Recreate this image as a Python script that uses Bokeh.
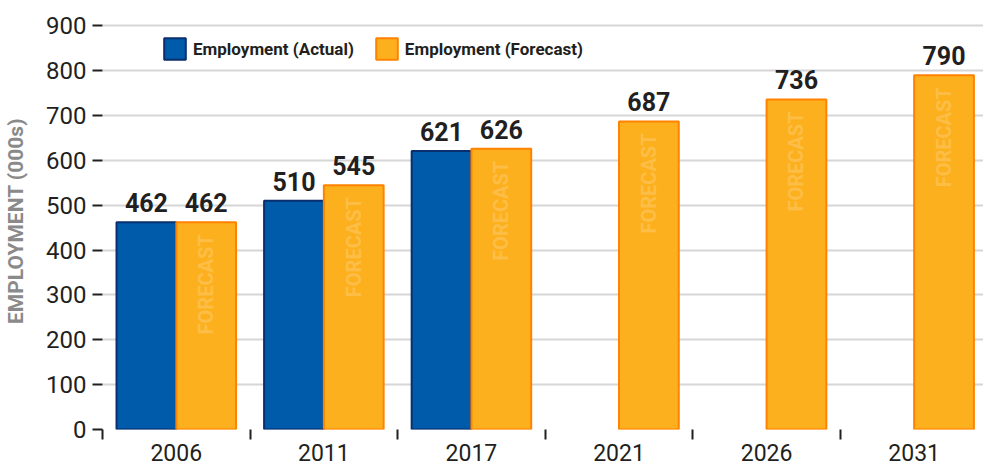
import numpy as np
from bokeh.plotting import figure
from bokeh.models import ColumnDataSource, FixedTicker, Legend, LegendItem
from bokeh.core.properties import value
from bokeh.embed import file_html
from bokeh.resources import INLINE

years = ["2006", "2011", "2017", "2021", "2026", "2031"]
actual = [462, 510, 621, None, None, None]
forecast = [462, 545, 626, 687, 736, 790]
y_ticks = [0, 100, 200, 300, 400, 500, 600, 700, 800, 900]

FONT = "Roboto"
DARK = "#231F20"
BLUE, BLUE_LINE = "#005BAA", "#0A2F6E"
ORANGE, ORANGE_LINE = "#FDB01E", "#FF8200"

idx = np.arange(len(years))
bw = 0.405

act_x = [i + 0.5 - bw / 2 for i, v in zip(idx, actual) if v is not None]
act_y = [v for v in actual if v is not None]
act_lbl = [str(v) for v in act_y]
fc_x = [i + 0.5 + bw / 2 for i in idx]
fc_lbl = [str(v) for v in forecast]

src_a = ColumnDataSource(dict(x=act_x, top=act_y, lbl=act_lbl))
src_f = ColumnDataSource(dict(x=fc_x, top=forecast, lbl=fc_lbl,
                              ftxt=["FORECAST"] * len(forecast)))

p = figure(width=983, height=466, x_range=(0, 5.97), y_range=(0, 930),
           output_backend="svg", toolbar_location=None,
           min_border_left=102, min_border_right=0, min_border_top=12,
           min_border_bottom=37)
p.outline_line_color = None
p.background_fill_color = "white"

ra = p.vbar(x="x", top="top", width=bw, bottom=0, source=src_a,
            fill_color=BLUE, line_color=BLUE_LINE, line_width=2)
rf = p.vbar(x="x", top="top", width=bw, bottom=0, source=src_f,
            fill_color=ORANGE, line_color=ORANGE_LINE, line_width=2)

# watermark text inside forecast bars
p.text(x="x", y="top", text="ftxt", source=src_f, angle=np.pi / 2,
       text_align="right", text_baseline="middle", y_offset=12,
       text_font=value(FONT), text_font_style="bold", text_font_size="20px",
       text_color="#FFFFFF", text_alpha=0.2)

# value labels
for src in (src_a, src_f):
    p.text(x="x", y="top", text="lbl", source=src, text_align="center",
           text_baseline="bottom", y_offset=-10,
           text_font=value(FONT), text_font_style="bold", text_font_size="25px",
           text_color=DARK)

# y axis
p.yaxis.ticker = FixedTicker(ticks=y_ticks)
p.yaxis.axis_line_color = None
p.yaxis.major_tick_out = 10
p.yaxis.major_tick_in = 0
p.yaxis.major_tick_line_width = 2
p.yaxis.major_tick_line_color = DARK
p.yaxis.minor_tick_line_color = None
p.yaxis.major_label_text_font = FONT
p.yaxis.major_label_text_font_size = "24px"
p.yaxis.major_label_text_color = DARK
p.yaxis.major_label_standoff = 6
p.yaxis.axis_label = "EMPLOYMENT (000s)"
p.yaxis.axis_label_text_font = FONT
p.yaxis.axis_label_text_font_style = "bold"
p.yaxis.axis_label_text_font_size = "21px"
p.yaxis.axis_label_text_color = "#8A8A8A"
p.yaxis.axis_label_standoff = 15

# x axis: ticks at category boundaries, labels at centres
p.xaxis.ticker = FixedTicker(ticks=[i + 0.5 for i in idx],
                             minor_ticks=[float(i) for i in idx])
p.xaxis.major_label_overrides = {float(i + 0.5): y for i, y in zip(idx, years)}
p.xaxis.axis_line_color = None
p.xaxis.major_tick_out = 0
p.xaxis.major_tick_in = 0
p.xaxis.minor_tick_out = 10
p.xaxis.minor_tick_in = 0
p.xaxis.minor_tick_line_width = 2
p.xaxis.minor_tick_line_color = DARK
p.xaxis.major_label_text_font = FONT
p.xaxis.major_label_text_font_size = "23px"
p.xaxis.major_label_text_color = DARK
p.xaxis.major_label_standoff = 4

p.xgrid.grid_line_color = None
p.ygrid.ticker = FixedTicker(ticks=y_ticks)
p.ygrid.grid_line_color = "#D6D6D6"
p.ygrid.grid_line_width = 2
p.ygrid.level = "underlay"

legend = Legend(items=[LegendItem(label="Employment (Actual)", renderers=[ra]),
                       LegendItem(label="Employment (Forecast)", renderers=[rf])],
                orientation="horizontal", location=(59, 367))
legend.padding = 0
legend.margin = 0
legend.spacing = 19
legend.glyph_width = 27
legend.glyph_height = 27
legend.label_height = 27
legend.label_standoff = 5
legend.border_line_color = None
legend.background_fill_alpha = 0
legend.label_text_font = FONT
legend.label_text_font_style = "bold"
legend.label_text_font_size = "17px"
legend.label_text_color = DARK
p.add_layout(legend, "center")

open("out.html", "w").write(file_html(p, INLINE))
